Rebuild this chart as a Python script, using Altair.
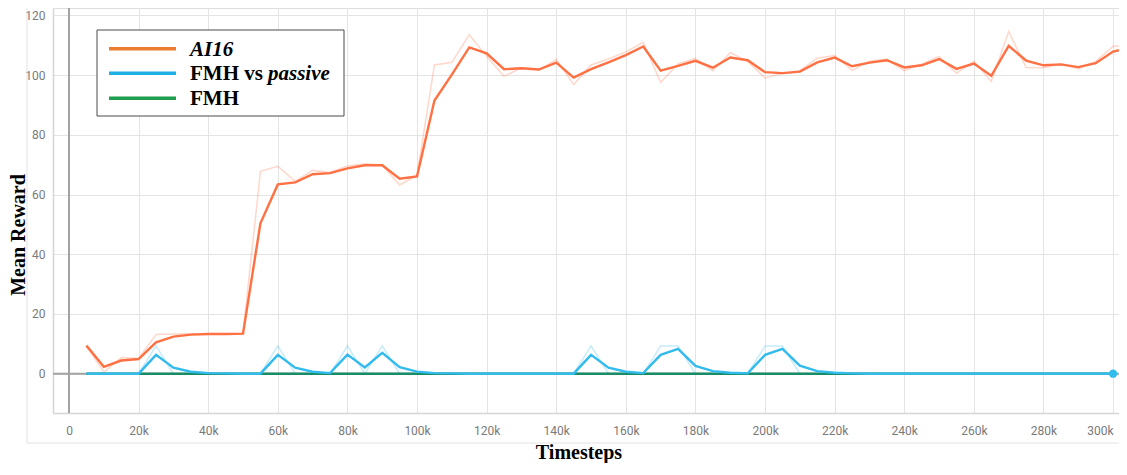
import altair as alt
import pandas as pd

# ---------------- data ----------------
steps_k = list(range(5, 306, 5))  # timesteps in thousands: 5k ... 305k

ai16_smooth = [9.4, 2.3, 4.4, 4.9, 10.5, 12.4, 13.1, 13.3, 13.3, 13.4,
               50.4, 63.4, 64.1, 66.8, 67.2, 68.8, 69.8, 69.8, 65.3, 66.1,
               91.5, 100.2, 109.3, 107.3, 102.0, 102.3, 101.9, 104.2, 99.2, 102.0,
               104.3, 106.7, 109.6, 101.5, 103.1, 104.8, 102.5, 105.9, 105.0, 101.0,
               100.7, 101.2, 104.3, 105.9, 103.0, 104.2, 105.0, 102.6, 103.3, 105.4,
               102.1, 103.9, 99.8, 109.8, 104.9, 103.3, 103.6, 102.7, 104.0, 107.9, 109.2]

ai16_raw = [9.4, 0.5, 5.4, 5.1, 13.1, 13.3, 13.4, 13.3, 13.3, 13.4,
            67.8, 69.5, 64.4, 68.1, 67.4, 69.6, 70.3, 69.8, 63.2, 66.5,
            103.4, 104.3, 113.5, 106.3, 99.6, 102.5, 101.7, 105.3, 96.9, 103.4,
            105.4, 107.8, 111.0, 97.6, 103.8, 105.6, 101.5, 107.5, 104.6, 99.1,
            100.6, 101.5, 105.7, 106.6, 101.6, 104.7, 105.4, 101.5, 103.7, 106.3,
            100.6, 104.7, 97.9, 114.6, 102.6, 102.5, 103.7, 102.2, 104.6, 109.7, 109.9]

passive_smooth = [0, 0, 0, 0, 6.3, 2.0, 0.65, 0.2, 0.1, 0,
                  0, 6.3, 2.0, 0.65, 0.2, 6.4, 2.1, 7.0, 2.2, 0.7,
                  0.2, 0.1, 0, 0, 0, 0, 0, 0, 0, 6.3,
                  2.0, 0.65, 0.2, 6.3, 8.3, 2.6, 0.85, 0.3, 0.1, 6.3,
                  8.3, 2.7, 0.85, 0.3, 0.1, 0, 0, 0, 0, 0,
                  0, 0, 0, 0, 0, 0, 0, 0, 0, 0]

passive_raw = [0, 0, 0, 0, 9.3, 0, 0, 0, 0, 0,
               0, 9.3, 0, 0, 0, 9.3, 0, 9.3, 0, 0,
               0, 0, 0, 0, 0, 0, 0, 0, 0, 9.3,
               0, 0, 0, 9.3, 9.3, 0, 0, 0, 0, 9.3,
               9.3, 0, 0, 0, 0, 0, 0, 0, 0, 0,
               0, 0, 0, 0, 0, 0, 0, 0, 0, 0]

fmh_smooth = [0] * 60
fmh_raw = [0] * 60

series_names = ["AI16", "FMH vs passive", "FMH"]
line_colors = ["#ff7043", "#33bbee", "#178c66"]
legend_colors = ["#ec7c30", "#1eb0e6", "#1f9e4f"]

x_ticks = [0, 20, 40, 60, 80, 100, 120, 140, 160, 180, 200, 220, 240, 260, 280, 300]
y_ticks = [0, 20, 40, 60, 80, 100, 120]

# ---------------- tables ----------------
def table(name, vals, kind):
    return pd.DataFrame({"step": steps_k[:len(vals)], "value": vals,
                         "series": name, "kind": kind})

smooth_df = pd.concat([table("FMH", fmh_smooth, "s"),
                       table("FMH vs passive", passive_smooth, "s"),
                       table("AI16", ai16_smooth, "s")])
raw_df = pd.concat([table("FMH", fmh_raw, "r"),
                    table("FMH vs passive", passive_raw, "r"),
                    table("AI16", ai16_raw, "r")])
last_df = table("FMH vs passive", passive_smooth, "s").tail(1)

W, H = 1066, 405
XMIN, XMAX = -4.6, 301.7
YMIN, YMAX = -13.17, 122.5

label_font = "Roboto"
xscale = alt.Scale(domain=[XMIN, XMAX], nice=False, zero=False)
yscale = alt.Scale(domain=[YMIN, YMAX], nice=False, zero=False)
cscale = alt.Scale(domain=series_names, range=line_colors)

x_axis = alt.Axis(values=x_ticks, labelExpr="datum.value == 0 ? '0' : datum.value + 'k'",
                  grid=True, gridColor="#e4e4e4", gridWidth=1, ticks=False,
                  domainColor="#d6d6d6", domainWidth=1.5, labelPadding=12, labelFlush=10,
                  labelFont=label_font, labelFontSize=12, labelColor="#7a7a7a", title=None)
y_axis = alt.Axis(values=y_ticks, grid=True, gridColor="#e4e4e4", gridWidth=1, ticks=False,
                  domainColor="#d6d6d6", domainWidth=1.5, labelPadding=8,
                  labelFont=label_font, labelFontSize=12, labelColor="#7a7a7a", title=None)

X = alt.X("step:Q", scale=xscale, axis=x_axis)
Y = alt.Y("value:Q", scale=yscale, axis=y_axis)

one = pd.DataFrame({"a": [0]})

zero_h = alt.Chart(one).mark_rule(color="#a3a3a3", strokeWidth=2).encode(y=alt.datum(0, scale=yscale))
zero_v = alt.Chart(one).mark_rule(color="#a3a3a3", strokeWidth=2).encode(x=alt.datum(0, scale=xscale))

raw_lines = alt.Chart(raw_df).mark_line(strokeWidth=1.5, opacity=0.28, clip=True).encode(
    x=X, y=Y, color=alt.Color("series:N", scale=cscale, legend=None), detail="series:N",
    order="step:Q")
smooth_lines = alt.Chart(smooth_df).mark_line(strokeWidth=2.4, clip=True).encode(
    x=X, y=Y, color=alt.Color("series:N", scale=cscale, legend=None), detail="series:N",
    order="step:Q")
end_dot = alt.Chart(last_df).mark_point(filled=True, size=70, opacity=1, color="#33bbee").encode(x=X, y=Y)

# card outline (outside plot)
card_v = alt.Chart(one).mark_rule(color="#e2e2e2", strokeWidth=1).encode(
    x=alt.value(-26), y=alt.value(-8), y2=alt.value(435))
card_h = alt.Chart(one).mark_rule(color="#e2e2e2", strokeWidth=1).encode(
    x=alt.value(-26), x2=alt.value(W), y=alt.value(435))

# legend box
leg_box = alt.Chart(one).mark_rect(fill="white", stroke="#4a4a4a", strokeWidth=1).encode(
    x=alt.value(44), x2=alt.value(291), y=alt.value(22), y2=alt.value(108))
leg_rows = [40.7, 65.3, 90.3]
leg_lines = [alt.Chart(one).mark_rule(color=c, strokeWidth=3.5).encode(
    x=alt.value(56), x2=alt.value(123), y=alt.value(yy)) for c, yy in zip(legend_colors, leg_rows)]
serif = "Liberation Serif"
def ltext(txt, x, y, italic=False, align="left", size=21):
    return alt.Chart(one).mark_text(text=txt, font=serif, fontSize=size, fontWeight="bold",
                                    fontStyle="italic" if italic else "normal",
                                    align=align, baseline="middle", color="black").encode(
        x=alt.value(x), y=alt.value(y))
leg_texts = [ltext("AI16", 137, leg_rows[0] + 1, italic=True),
             ltext("FMH vs", 137, leg_rows[1] + 1),
             ltext("passive", 215, leg_rows[1] + 1, italic=True),
             ltext("FMH", 137, leg_rows[2] + 1)]

y_title = alt.Chart(one).mark_text(text="Mean Reward", font=serif, fontSize=20, fontWeight="bold",
                                   angle=270, align="center", baseline="middle", color="black").encode(
    x=alt.value(-34), y=alt.value(227))
x_title = alt.Chart(one).mark_text(text="Timesteps", font=serif, fontSize=20, fontWeight="bold",
                                   align="center", baseline="alphabetic", color="black").encode(
    x=alt.value(526), y=alt.value(451))

chart = alt.layer(
    card_v, card_h, zero_h, zero_v, raw_lines, smooth_lines, end_dot,
    leg_box, *leg_lines, *leg_texts, y_title, x_title
).properties(
    width=W, height=H,
    autosize=alt.AutoSizeParams(type="none"),
    padding={"left": 45, "top": 0, "right": 0, "bottom": 50},
).configure_view(stroke=None).configure(background="white")

chart.save("out.html", embed_options={"renderer": "svg", "actions": False})
